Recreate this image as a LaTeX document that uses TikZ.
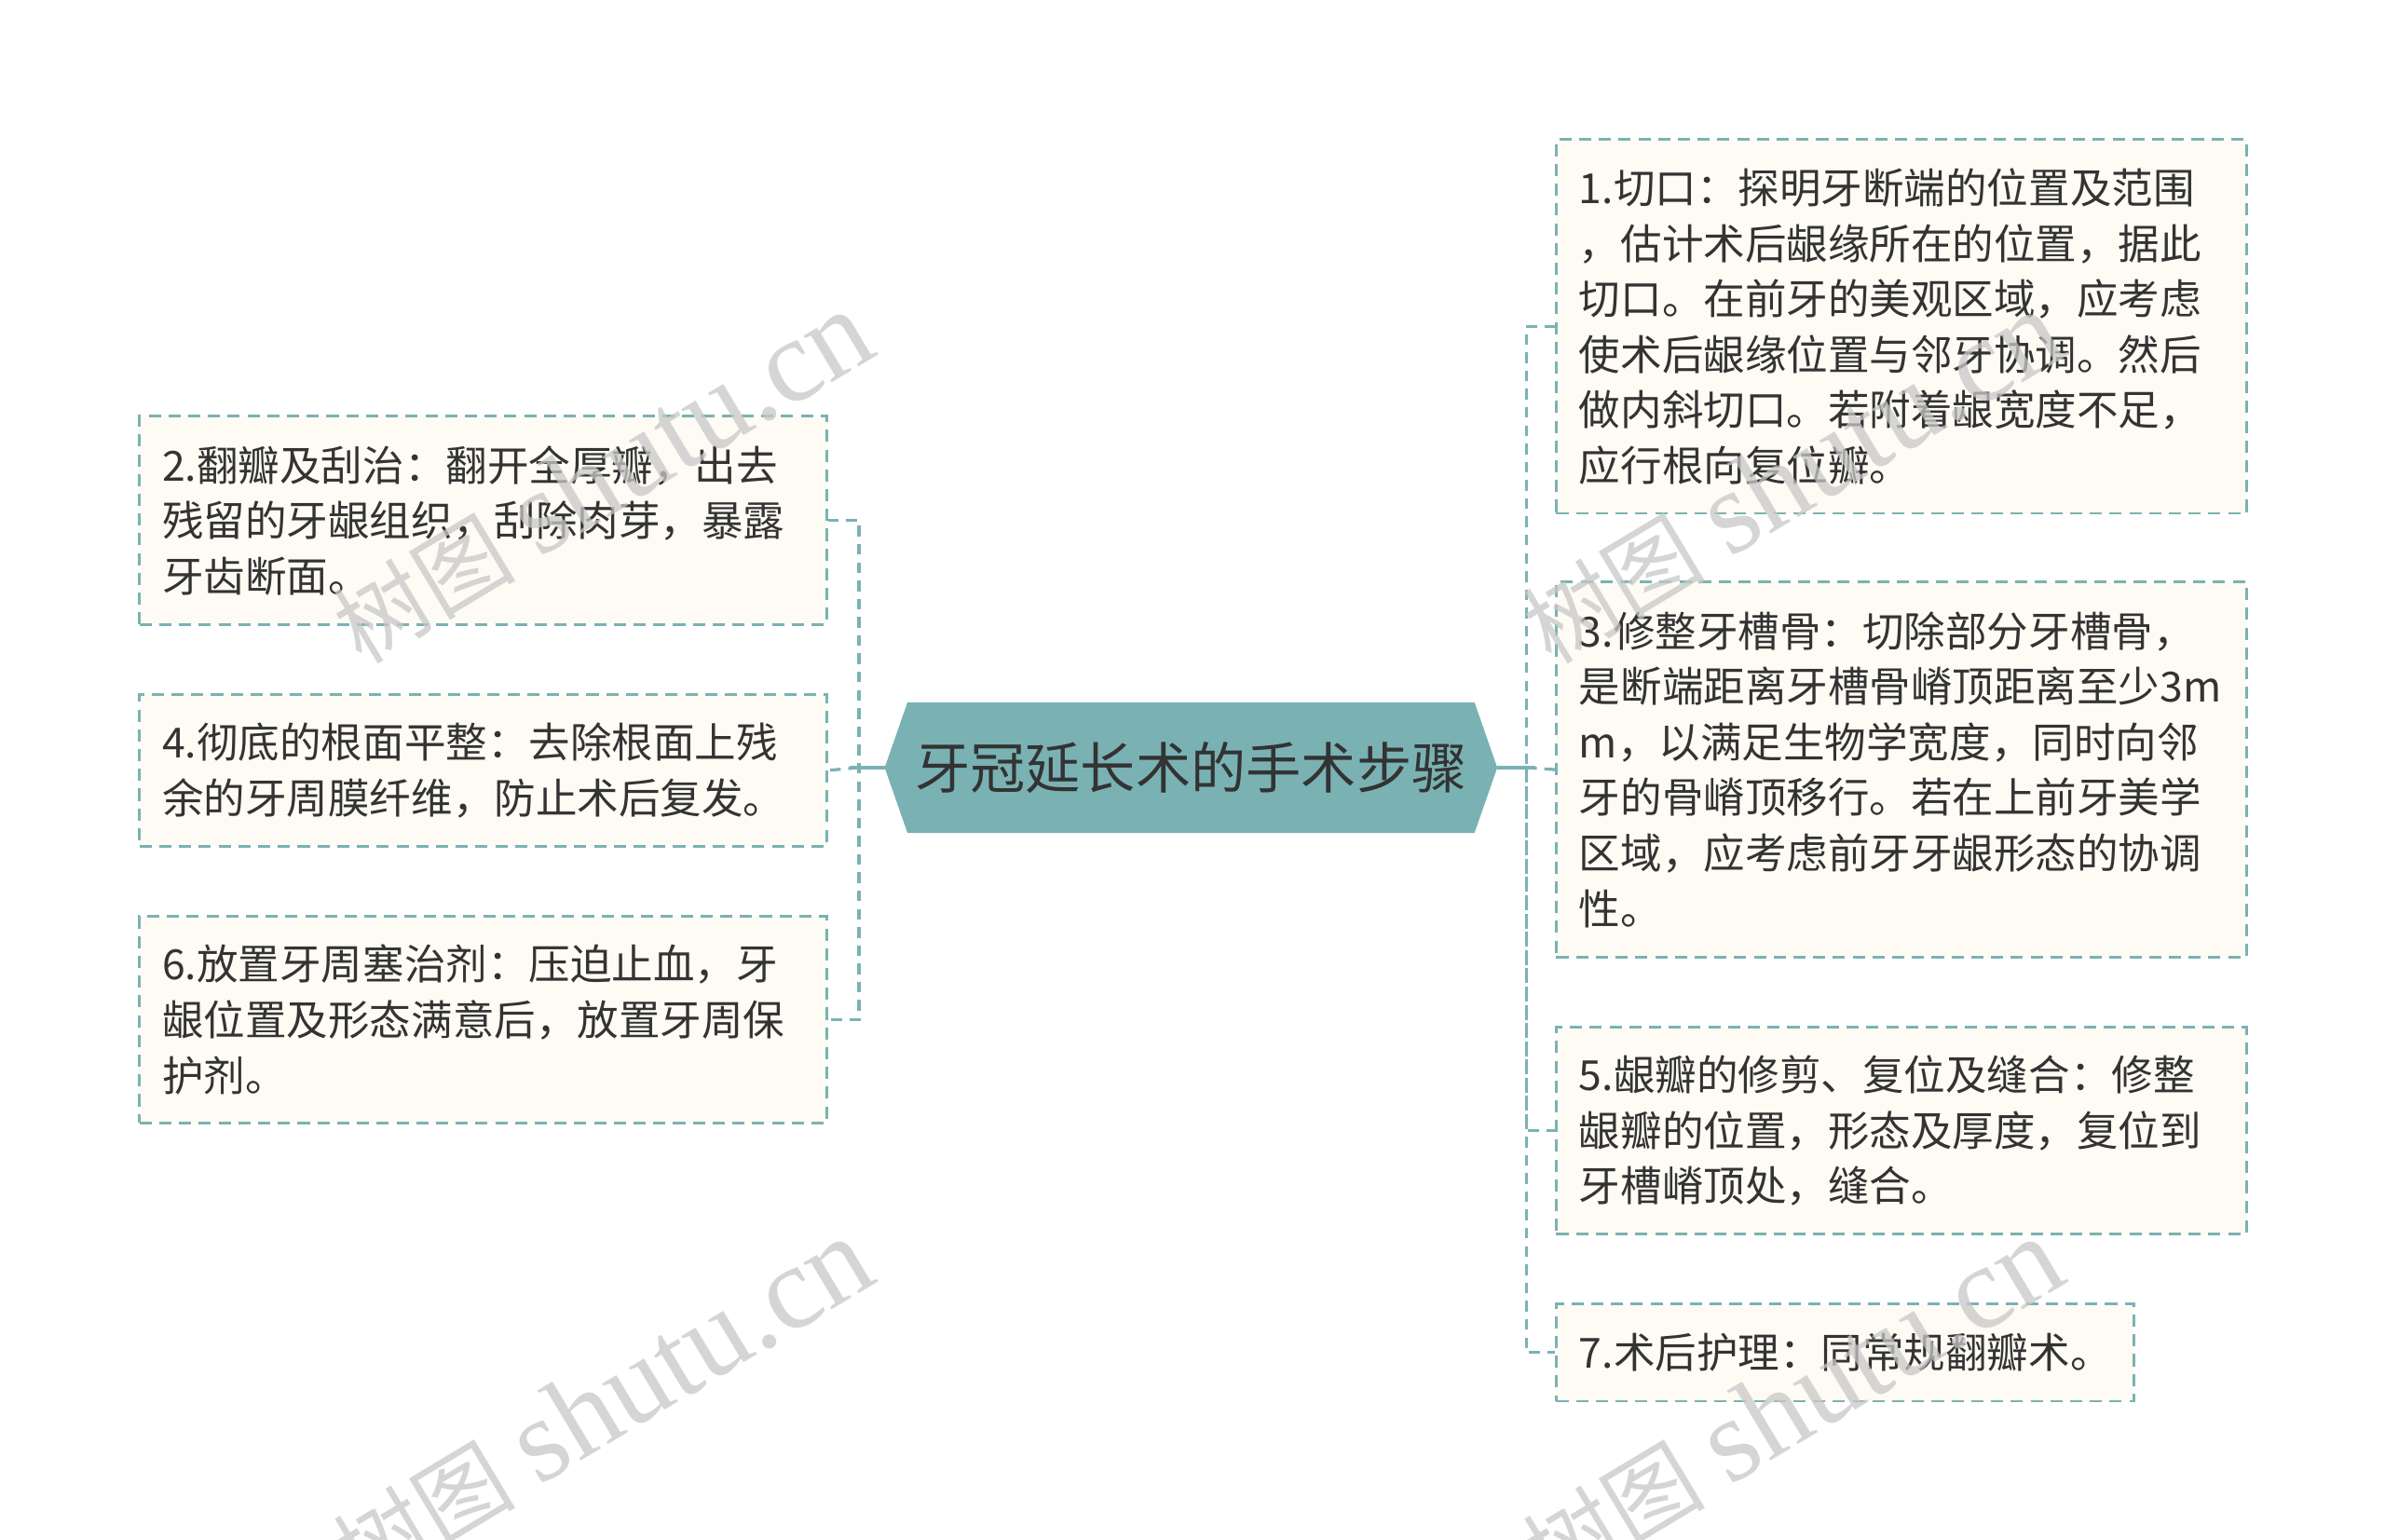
\documentclass[tikz,border=0pt]{standalone}
\usepackage{fontspec}
\usetikzlibrary{calc}
\newfontfamily\cjk{Noto Sans CJK SC}
\newfontfamily\wmserif{Liberation Serif}
\definecolor{teal1}{RGB}{122,178,180}
\definecolor{cream}{RGB}{253,251,243}
\definecolor{txt}{RGB}{51,51,51}
\definecolor{wmgray}{RGB}{200,200,200}
\begin{document}
\begin{tikzpicture}[x=1pt,y=-1pt,
  box/.style={draw=teal1, line width=1.6pt, dash pattern=on 8pt off 5pt, fill=cream,
    anchor=north west, inner xsep=15pt, inner ysep=0pt, align=left, text=txt,
    font=\cjk\fontsize{27.3}{36.5}\selectfont},
  conn/.style={draw=teal1, line width=2pt, dash pattern=on 7pt off 5pt},
  stub/.style={draw=teal1, line width=2.4pt},
  wm/.style={text=wmgray, opacity=0.75, rotate=31, inner sep=0pt}]
\useasboundingbox (0,0) rectangle (1569,1012.5);
\fill[white] (0,0) rectangle (1569,1012.5);

% centre
\coordinate (cl) at (582,505);
\coordinate (cr) at (985,505);
\fill[teal1] (cl) -- (597,462) -- (970,462) -- (cr) -- (970,548) -- (597,548) -- cycle;
\node[text=txt, font=\cjk\fontsize{36.3}{40}\selectfont, inner sep=0pt] (title) at (783.5,505) {牙冠延长术的手术步骤};

% right boxes
\node[box, text width=424pt, minimum height=246pt] (b1) at (1023,91) {1.切口：探明牙断端的位置及范围\\，估计术后龈缘所在的位置，据此\\切口。在前牙的美观区域，应考虑\\使术后龈缘位置与邻牙协调。然后\\做内斜切口。若附着龈宽度不足，\\应行根向复位瓣。};
\node[box, text width=424pt, minimum height=247pt] (b3) at (1023,382) {3.修整牙槽骨：切除部分牙槽骨，\\是断端距离牙槽骨嵴顶距离至少3m\\m，以满足生物学宽度，同时向邻\\牙的骨嵴顶移行。若在上前牙美学\\区域，应考虑前牙牙龈形态的协调\\性。};
\node[box, text width=424pt, minimum height=136pt] (b5) at (1023,675) {5.龈瓣的修剪、复位及缝合：修整\\龈瓣的位置，形态及厚度，复位到\\牙槽嵴顶处，缝合。};
\node[box, text width=350pt, minimum height=64pt] (b7) at (1023,857) {7.术后护理：同常规翻瓣术。};

% left boxes
\node[box, text width=422pt, minimum height=137pt] (b2) at (91,273) {2.翻瓣及刮治：翻开全厚瓣，出去\\残留的牙龈组织，刮除肉芽，暴露\\牙齿断面。};
\node[box, text width=422pt, minimum height=100pt] (b4) at (91,456) {4.彻底的根面平整：去除根面上残\\余的牙周膜纤维，防止术后复发。};
\node[box, text width=422pt, minimum height=136pt] (b6) at (91,602) {6.放置牙周塞治剂：压迫止血，牙\\龈位置及形态满意后，放置牙周保\\护剂。};

% connectors
\coordinate (L) at (565,505);
\coordinate (R) at (1004,505);
\draw[conn] (b2.east) -| (L) |- (b6.east);
\draw[conn] (L) -- (b4.east);
\draw[stub] (cl) -- ($(L)+(-6,0)$);
\draw[conn] (b1.west) -| (R) |- (b7.west);
\draw[conn] (R) |- (b5.west);
\draw[conn] (R) -- (b3.west);
\draw[stub] (cr) -- ($(R)+(6,0)$);

% watermarks
\newcommand{\wmtext}{{\cjk\fontsize{60}{70}\selectfont 树图}\hspace{16pt}{\wmserif\fontsize{78}{90}\selectfont shutu.cn}}
\node[wm] (w1) at (396,314) {\wmtext};
\node[wm] (w2) at (396,924) {\wmtext};
\node[wm] (w3) at (1179,314) {\wmtext};
\node[wm] (w4) at (1179,924) {\wmtext};
\end{tikzpicture}
\end{document}
